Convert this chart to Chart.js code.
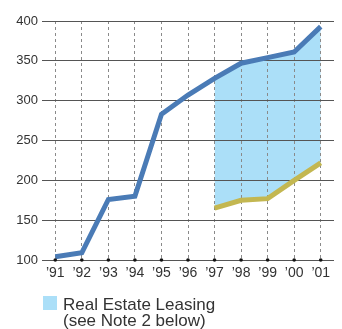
<!DOCTYPE html>
<html><head><meta charset="utf-8">
<script src="https://cdn.jsdelivr.net/npm/chart.js@4/dist/chart.umd.min.js"></script>
<style>html,body{margin:0;padding:0;background:#fff;}#wrap{width:342px;height:329px;position:relative;}</style>
</head><body><div id="wrap"><canvas id="c" width="342" height="329"></canvas></div>
<script>
const years = ['’91','’92','’93','’94','’95','’96','’97','’98','’99','’00','’01'];
const totalValues = [104,109,176,180,283,307,328,347,354,361,393];
const excludingLeasing = [null,null,null,null,null,null,165,175,177,200,222];
const yTicks = [100,150,200,250,300,350,400];
const legendLines = ['Real Estate Leasing','(see Note 2 below)'];

const BLUE = '#4a7bb6', GOLD = '#c3b751', FILL = '#abdff8', TXT = '#333333';
const leasingTop = totalValues.map((v,i)=> excludingLeasing[i]==null ? null : v);

const extras = {
  id:'extras',
  afterDatasetsDraw(chart){
    const ctx = chart.ctx, x = chart.scales.x, y = chart.scales.y;
    ctx.save();
    ctx.fillStyle = '#111';
    years.forEach((_,i)=>{
      ctx.beginPath();
      ctx.arc(x.getPixelForValue(i), y.getPixelForValue(yTicks[0]), 1.8, 0, Math.PI*2);
      ctx.fill();
    });
    ctx.restore();
  },
  afterDraw(chart){
    const ctx = chart.ctx;
    ctx.save();
    ctx.fillStyle = FILL;
    ctx.fillRect(43,296,14,14);
    ctx.fillStyle = TXT;
    ctx.font = '17px "Liberation Sans", Arial, sans-serif';
    ctx.textBaseline = 'alphabetic';
    ctx.fillText(legendLines[0], 63, 309.5);
    ctx.fillText(legendLines[1], 63, 325.5);
    ctx.restore();
  }
};

new Chart(document.getElementById('c'), {
  type:'line',
  data:{
    labels: years,
    datasets:[
      {data: totalValues, borderColor: BLUE, borderWidth: 5, pointRadius: 0, fill: false, tension: 0, order: 1},
      {data: excludingLeasing, borderColor: GOLD, borderWidth: 5, pointRadius: 0, fill: false, tension: 0, order: 2},
      {data: leasingTop, borderWidth: 0, borderColor: 'rgba(0,0,0,0)', backgroundColor: FILL, pointRadius: 0, fill: {target: 1}, tension: 0, order: 3}
    ]
  },
  options:{
    responsive:false, animation:false, devicePixelRatio:1,
    layout:{padding:{top:21, right:8, left:0, bottom:0}},
    plugins:{legend:{display:false}, tooltip:{enabled:false}, filler:{drawTime:'beforeDraw'}},
    scales:{
      x:{
        type:'category', offset:true,
        grid:{offset:false, color:'#8a8a8a', lineWidth:1, drawTicks:false},
        border:{display:false, dash:[3,3]},
        ticks:{color:TXT, font:{size:14, family:'"Liberation Sans", Arial, sans-serif'}, padding:5, maxRotation:0, autoSkip:false},
        afterFit(s){ s.height = 69; }
      },
      y:{
        min:100, max:400,
        afterBuildTicks(s){ s.ticks = yTicks.map(v=>({value:v})); },
        grid:{color:'#555', lineWidth:1, drawTicks:false},
        border:{display:false},
        ticks:{color:TXT, font:{size:13, family:'"Liberation Sans", Arial, sans-serif'}, padding:4},
        afterFit(s){ s.width = 42; }
      }
    }
  },
  plugins:[extras]
});
</script></body></html>
